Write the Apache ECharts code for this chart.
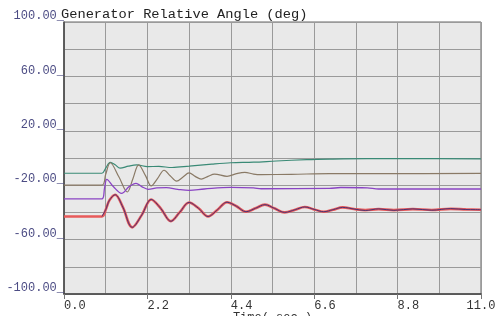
<!DOCTYPE html>
<html>
<head>
<meta charset="utf-8">
<script src="https://cdn.jsdelivr.net/npm/echarts@6/dist/echarts.min.js"></script>
<style>
  html, body { margin: 0; padding: 0; background: #fff; }
  #diagram { width: 495px; height: 316px; }
</style>
</head>
<body>
<div id="diagram"></div>
<script>
// generator angle traces, [time s, angle deg]
var greenAngle = [[0,-11.2],[1.0,-11.2],[1.1,-7.5],[1.22,-3.2],[1.35,-5],[1.48,-7.5],[1.7,-6],[1.92,-5.1],[2.2,-6.3],[2.5,-6.2],[2.85,-7],[3.3,-6],[3.9,-4.5],[4.4,-3.5],[5.0,-3.1],[5.6,-2.2],[6.4,-1.2],[7.0,-0.8],[8.0,-0.5],[9.0,-0.5],[11,-0.6]];
var brownAngle = [[0,-20],[1.0,-20],[1.1,-12],[1.22,-3.5],[1.45,-14],[1.67,-25],[1.82,-15],[1.97,-5],[2.15,-13],[2.3,-20.5],[2.47,-15],[2.64,-9],[2.8,-13],[2.97,-17],[3.14,-14],[3.3,-11],[3.46,-13.5],[3.62,-15.5],[3.8,-13.5],[3.97,-11.8],[4.3,-13.5],[4.55,-11.5],[4.77,-10.5],[5.0,-11.8],[5.2,-12.2],[6.0,-12],[7.0,-11.5],[8.5,-11.5],[11,-11.3]];
var purpleAngle = [[0,-30],[1.0,-30],[1.07,-22],[1.13,-15.7],[1.3,-21],[1.52,-26],[1.72,-21],[1.9,-18.6],[2.05,-21],[2.22,-23],[2.45,-22],[2.7,-21.8],[3.0,-23],[3.3,-23.8],[3.7,-22.8],[4.4,-21.6],[5.0,-22],[5.2,-22.6],[7.0,-22.4],[7.3,-21.7],[8.0,-22],[8.3,-22.8],[11,-22.8]];
var redAngle = [[0,-43],[1.0,-43],[1.1,-38],[1.2,-31],[1.35,-27],[1.55,-36],[1.8,-51],[2.05,-42],[2.3,-30.5],[2.55,-37],[2.82,-46.5],[3.05,-40],[3.3,-32.7],[3.55,-37],[3.8,-43],[4.05,-38],[4.3,-32.5],[4.55,-35.5],[4.8,-39.5],[5.05,-37],[5.3,-34.3],[5.55,-37],[5.82,-40],[6.1,-38],[6.35,-36],[6.6,-37.8],[6.85,-39.5],[7.1,-38],[7.35,-36.3],[7.65,-37.5],[7.95,-38.3],[8.3,-37.6],[8.7,-38.3],[9.2,-37.6],[9.7,-38.2],[10.2,-37.4],[10.6,-37.8],[11,-38]];
var navyAngle = [[1.0,-43],[1.1,-38],[1.2,-31],[1.35,-27],[1.55,-36],[1.8,-51],[2.05,-42],[2.3,-30.5],[2.55,-37],[2.82,-46.5],[3.05,-40],[3.3,-32.7],[3.55,-37],[3.8,-43],[4.05,-38],[4.3,-32.5],[4.55,-35.5],[4.8,-39.5],[5.05,-37],[5.3,-34.3],[5.55,-37],[5.82,-40],[6.1,-38],[6.35,-36],[6.6,-37.8],[6.85,-39.5],[7.1,-38],[7.35,-36.3],[7.65,-37.5],[7.95,-38.6],[8.3,-37.4],[8.7,-38.5],[9.2,-37.4],[9.7,-38.4],[10.2,-37.2],[10.6,-37.9],[11,-38]];

var mono = "Liberation Mono";

var myChart = echarts.init(document.getElementById("diagram"));

function line(name, data, color, width, z){
  return {
    name: name, type: "line", data: data, smooth: 0.35,
    showSymbol: false, silent: true, z: z,
    lineStyle: { color: color, width: width }
  };
}

var option = {
  animation: false,
  title: {
    text: "Generator Relative Angle (deg)",
    left: 61, top: 7, padding: 0,
    textStyle: { fontFamily: mono, fontSize: 13.7, fontWeight: "normal", color: "#222" }
  },
  grid: {
    left: 64, top: 22, right: 14, bottom: 22,
    containLabel: false, outerBoundsMode: "none",
    show: true, backgroundColor: "#e9e9e9", borderColor: "#666", borderWidth: 1
  },
  xAxis: {
    type: "value", min: 0, max: 11, interval: 2.2,
    name: "Time( sec.)", nameLocation: "middle", nameGap: 18, nameMoveOverlap: false,
    nameTextStyle: { fontFamily: mono, fontSize: 12, color: "#333", verticalAlign: "top" },
    axisLine: { onZero: false, lineStyle: { color: "#444", width: 1.5 } },
    axisTick: { show: true, length: 5, lineStyle: { color: "#777" } },
    axisLabel: {
      fontFamily: mono, fontSize: 12, color: "#333", margin: 6,
      align: "left", alignMaxLabel: "center",
      formatter: function (v) { return v.toFixed(1); }
    },
    splitLine: { show: true, lineStyle: { color: "#9a9a9a", width: 1 } },
    minorTick: { show: false, splitNumber: 2 },
    minorSplitLine: { show: true, lineStyle: { color: "#9a9a9a", width: 1 } }
  },
  yAxis: {
    type: "value", min: -100, max: 100, interval: 20,
    axisLine: { show: true, onZero: false, lineStyle: { color: "#444", width: 1.5 } },
    axisTick: { show: false },
    axisLabel: {
      fontFamily: mono, fontSize: 12, color: "#4c4c84", margin: 0,
      verticalAlign: "bottom", lineHeight: 12,
      formatter: function (v) {
        return Math.round(v + 100) % 40 === 0 ? v.toFixed(2) + "_" : "";
      }
    },
    splitLine: { show: true, lineStyle: { color: "#9a9a9a", width: 1 } }
  },
  series: [
    line("Gen 1", greenAngle, "#3a8a76", 1.2, 2),
    line("Gen 2", brownAngle, "#8a7a66", 1.2, 3),
    line("Gen 3", purpleAngle, "#8a44c4", 1.3, 4),
    line("Gen 4", redAngle, "#e85a5a", 2.6, 5),
    line("Gen 5", navyAngle, "#4a3272", 1, 6)
  ]
};
myChart.setOption(option);
</script>
</body>
</html>
